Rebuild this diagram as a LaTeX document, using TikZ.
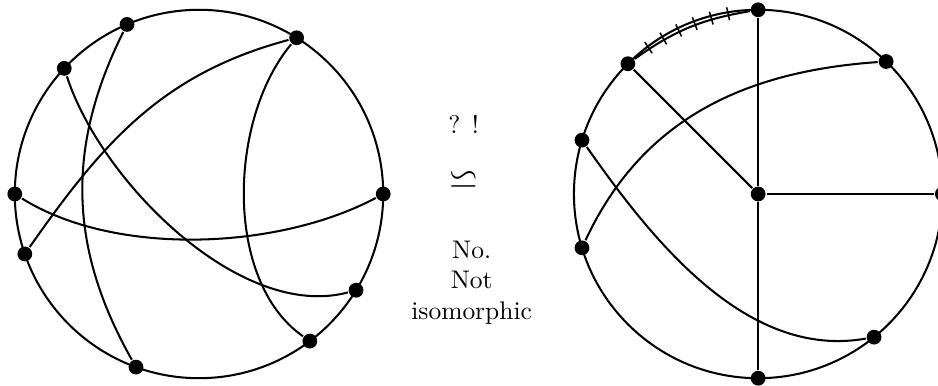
\documentclass[tikz,border=0pt]{standalone}
\usepackage{amsmath,amssymb}
\usepackage{tikz}
\usetikzlibrary{decorations.markings}

\begin{document}
\begin{tikzpicture}[thick,
  vtx/.style={circle,fill,inner sep=0pt,minimum size=5.8pt},
  ticked/.style={postaction={decorate},decoration={markings,
    mark=between positions 0.14 and 0.83 step 0.1374 with {\draw[semithick] (0,-2pt)--(0,3.2pt);}}}]
\useasboundingbox (-2.744,-2.634) rectangle (10.19,2.675);
% left graph, radius 1in
\draw (0,0) circle (2.54);
\foreach \n/\a in {a/113,b/137,c/58,d/180,e/0,f/199,g/-31.5,h/-53,i/-110}
  \node[vtx] (\n) at (\a:2.54) {};
\draw (a) to[bend right=28] (i);
\draw (b) to[out=-72,in=195,looseness=0.8] (g);
\draw (c) to[out=195,in=55] (f);
\draw (d) to[out=-32,in=208,looseness=0.8] (e);
\draw (c) to[out=230,in=145,looseness=0.85] (h);
% middle
\node[anchor=base] (qm) at (3.65,0.841) {? !};
\node (iso) at (3.65,0.193) {\Large$\backsimeq$};
\node[anchor=north,align=center,inner sep=0pt] (ans) at (3.76,-0.63) {No.\\Not\\isomorphic};
% right graph
\begin{scope}[shift={(7.71,0)}]
\draw (0,0) circle (2.54);
\node[vtx] (ctr) at (0,0) {};
\foreach \n/\a in {top/90,ne/46,east/0,se/-51,bot/-90,sw/197,west/163,nw/135}
  \node[vtx] (\n) at (\a:2.54) {};
\draw (top) -- (ctr) -- (bot);
\draw (ctr) -- (east);
\draw (ctr) -- (nw);
\draw (ne) to[out=184,in=65] (sw);
\draw (west) to[out=-55,in=190,looseness=0.9] (se);
\draw[ticked] (nw) to[bend left=13] (top);
\end{scope}
\end{tikzpicture}
\end{document}
